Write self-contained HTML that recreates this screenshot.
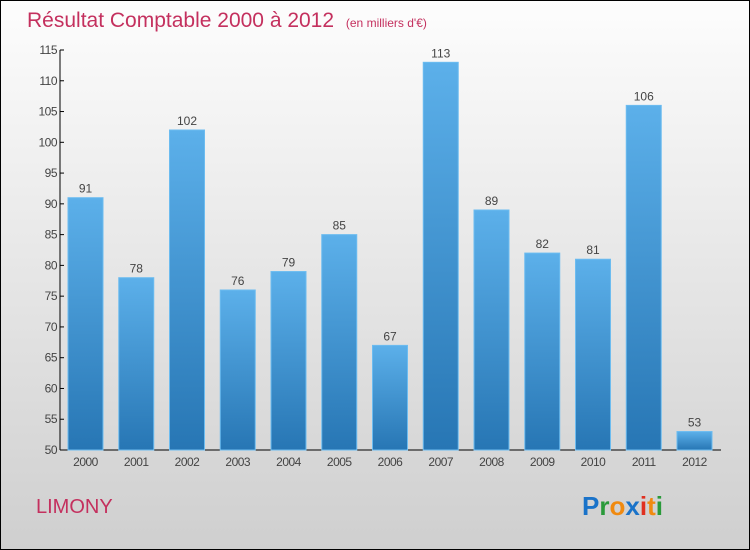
<!DOCTYPE html>
<html><head><meta charset="utf-8"><style>
body{margin:0}
#c{position:relative;width:750px;height:550px;box-sizing:border-box;border:1px solid #000;background:linear-gradient(#fdfdfd,#cfcfcf);font-family:"Liberation Sans",sans-serif;overflow:hidden}
</style></head><body>
<div id="c">
<svg width="750" height="550" style="position:absolute;left:-1px;top:-1px">
<defs><linearGradient id="bg" x1="0" y1="0" x2="0" y2="1"><stop offset="0" stop-color="#5cb0ea"/><stop offset="1" stop-color="#2776b4"/></linearGradient></defs>
<text x="27" y="27" font-size="21" fill="#c4305e">Résultat Comptable 2000 à 2012 <tspan font-size="12" dx="6">(en milliers d'€)</tspan></text>
<g id="plot"></g>
<text x="36" y="513" font-size="20" fill="#c4305e">LIMONY</text>
<text x="582" y="515" font-size="26" font-weight="bold"><tspan fill="#1a73c9">P</tspan><tspan fill="#2a9a3a">r</tspan><tspan fill="#f08a10">o</tspan><tspan fill="#1a73c9">x</tspan><tspan fill="#e03020">i</tspan><tspan fill="#f08a10">t</tspan><tspan fill="#2a9a3a">i</tspan></text>
</svg>
</div>
<script>
const years=["2000","2001","2002","2003","2004","2005","2006","2007","2008","2009","2010","2011","2012"];
const values=[91,78,102,76,79,85,67,113,89,82,81,106,53];
const yTicks=[50,55,60,65,70,75,80,85,90,95,100,105,110,115];
const ns="http://www.w3.org/2000/svg";
const g=document.getElementById('plot');
const y=v=>450-(v-50)*400/65;
const x=i=>68+i*50.75;
function el(t,a){const e=document.createElementNS(ns,t);for(const k in a)e.setAttribute(k,a[k]);g.appendChild(e);return e;}
let ax=el('line',{x1:60,y1:50,x2:60,y2:450,stroke:'#000'});


let bx=el('line',{x1:60,y1:450,x2:721,y2:450,stroke:'#000'});


yTicks.forEach(t=>{
 let l=el('line',{x1:60,y1:y(t),x2:64,y2:y(t),stroke:'#000'});
 
 
 let tx=el('text',{x:57,y:y(t)+4,'font-size':12,'text-anchor':'end',fill:'#444','letter-spacing':'-0.5'});
 tx.textContent=t;
 
 
});
years.forEach((yr,i)=>{
 const v=values[i];
 let r=el('rect',{x:x(i),y:y(v),width:35,height:450-y(v),fill:'url(#bg)',stroke:'#6cbcf0','stroke-width':1});
 
 
 let vl=el('text',{x:x(i)+17.5,y:y(v)-5,'font-size':12,'text-anchor':'middle',fill:'#444'});
 vl.textContent=v;
 
 
 let xl=el('text',{x:x(i)+17.5,y:466,'font-size':12,'text-anchor':'middle',fill:'#444','letter-spacing':'-0.5'});
 xl.textContent=yr;
 
 
});
</script>
</body></html>
